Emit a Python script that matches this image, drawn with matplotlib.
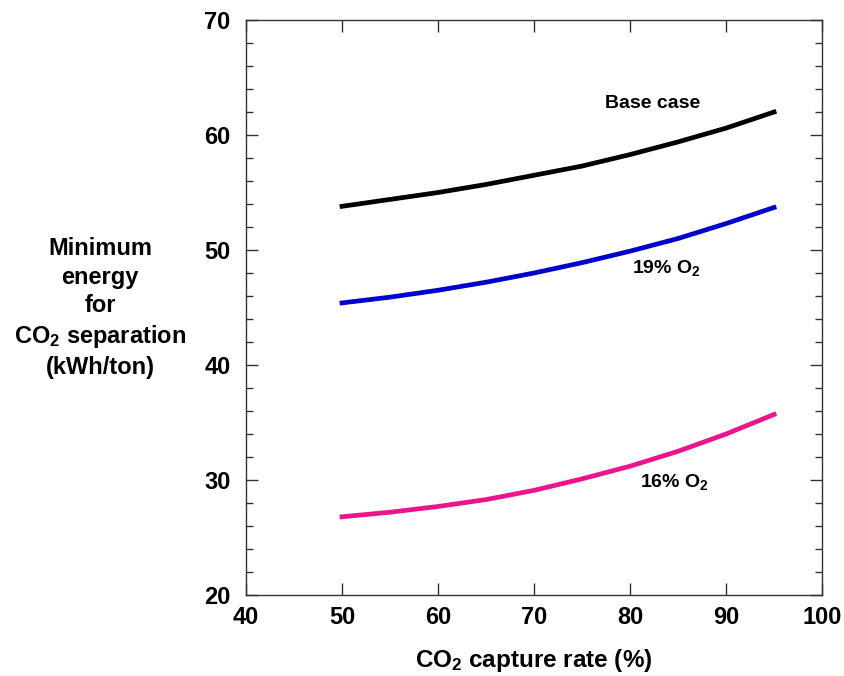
import numpy as np
import matplotlib.pyplot as plt
from matplotlib.ticker import MultipleLocator

plt.rcParams['font.family'] = 'Liberation Sans'
plt.rcParams['font.weight'] = 'bold'
plt.rcParams['axes.labelweight'] = 'bold'
plt.rcParams['mathtext.fontset'] = 'custom'
plt.rcParams['mathtext.rm'] = 'Liberation Sans:bold'
plt.rcParams['mathtext.it'] = 'Liberation Sans:bold'
plt.rcParams['mathtext.bf'] = 'Liberation Sans:bold'

# capture rate (%)
capture = [50, 55, 60, 65, 70, 75, 80, 85, 90, 95]
# minimum energy (kWh/ton)
base_case = [53.8, 54.4, 55.0, 55.7, 56.5, 57.3, 58.3, 59.4, 60.6, 62.0]
o2_19 = [45.4, 45.9, 46.5, 47.2, 48.0, 48.9, 49.9, 51.0, 52.3, 53.7]
o2_16 = [26.8, 27.2, 27.7, 28.3, 29.1, 30.1, 31.2, 32.5, 34.0, 35.7]

fig = plt.figure(figsize=(8.44, 6.76), dpi=100)
ax = fig.add_axes([0.2915, 0.1198, 0.6825, 0.8506])

ax.plot(capture, base_case, color='black', lw=3.4, solid_joinstyle='round')
ax.plot(capture, o2_19, color='#0000cc', lw=3.4, solid_joinstyle='round')
ax.plot(capture, o2_16, color='#ec148c', lw=3.4, solid_joinstyle='round')

ax.text(82.3, 62.7, 'Base case', ha='center', va='center', fontsize=14)
ax.text(83.8, 48.4, '19% O$_2$', ha='center', va='center', fontsize=14)
ax.text(84.6, 29.8, '16% O$_2$', ha='center', va='center', fontsize=14)

ax.set_xlim(40, 100)
ax.set_ylim(20, 70)
ax.xaxis.set_major_locator(MultipleLocator(10))
ax.yaxis.set_major_locator(MultipleLocator(10))
ax.yaxis.set_minor_locator(MultipleLocator(2))
ax.tick_params(which='both', direction='in', top=True, right=True,
               labelsize=17, color='#333333')
ax.tick_params(axis='x', pad=8)
ax.tick_params(axis='y', pad=11)
ax.tick_params(which='major', length=8.5, width=1)
ax.tick_params(which='minor', length=5, width=1)
for s in ax.spines.values():
    s.set_color('#333333')
    s.set_linewidth(1)

ax.set_xlabel('CO$_2$ capture rate (%)', fontsize=17.5, labelpad=13)
fig.text(100 / 844, 1 - 308 / 676,
         'Minimum\nenergy\nfor\nCO$_2$ separation\n(kWh/ton)',
         ha='center', va='center', fontsize=17, linespacing=1.3)

fig.savefig('out.png', dpi=100)
